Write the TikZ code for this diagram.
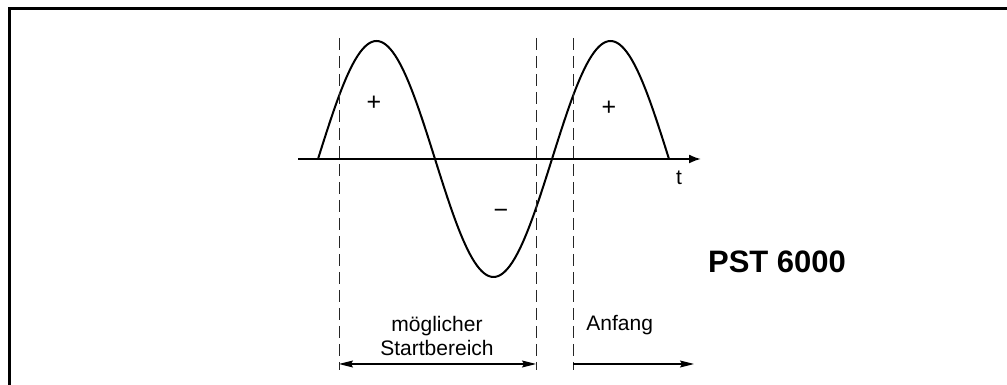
\documentclass[tikz,border=0pt]{standalone}
\usepackage{fontspec}
\setmainfont{Liberation Sans}
\usetikzlibrary{positioning,arrows.meta}

\begin{document}
\begin{tikzpicture}[x=0.5pt,y=0.5pt,
  >={Stealth[length=7pt,width=3.5pt,inset=1pt]},
  marker/.style={draw=black!85,line width=0.5pt,dash pattern=on 6pt off 3pt},
  span/.style={line width=0.6pt},
  lbl/.style={font=\fontsize{10.5}{12.5}\selectfont,inner sep=0pt},
  sign/.style={font=\fontsize{12.5}{14}\selectfont,inner sep=0pt}]
\useasboundingbox (0,0) rectangle (1007,385);
% frame (top and left edge only)
\draw[line width=1.5pt] (9.5,0) -- (9.5,376) -- (1007,376);
% time axis and wave
\coordinate (t0) at (298,226);
\coordinate (t1) at (701,226);
\draw[line width=1pt,-{Latex[length=6pt,width=4.5pt]}] (t0) -- (t1);
\node[lbl] (tlab) at (679,207) {t};
\draw[line width=1pt] plot[domain=0:3,samples=151,smooth] ({318+117*\x},{226+118*sin(180*\x)});
\node[sign] (pos1) at (374,282) {+};
\node[sign] (neg) at (501,171) {−};
\node[sign] (pos2) at (609,277) {+};
% dashed markers
\foreach \n/\xx in {a/339,b/536,c/573}{
  \coordinate (\n top) at (\xx,347);
  \coordinate (\n bot) at (\xx,15);
  \draw[marker] (\n top) -- (\n bot);
}
% ranges below
\coordinate (sa) at (339,21);
\coordinate (sb) at (536,21);
\coordinate (an) at (573,21);
\coordinate (ae) at (694,21);
\draw[span,<->] (sa) -- (sb);
\draw[span,->] (an) -- (ae);
\node[lbl,anchor=base] (moeg) at (437,53) {möglicher};
\node[lbl,anchor=base] (start) at (437,29) {Startbereich};
\node[lbl,anchor=base west] (anf) at (586,54) {Anfang};
% device name
\node[font=\fontsize{15.5}{18}\selectfont\bfseries,inner sep=0pt] (dev) at (777,123) {PST 6000};
\end{tikzpicture}
\end{document}
